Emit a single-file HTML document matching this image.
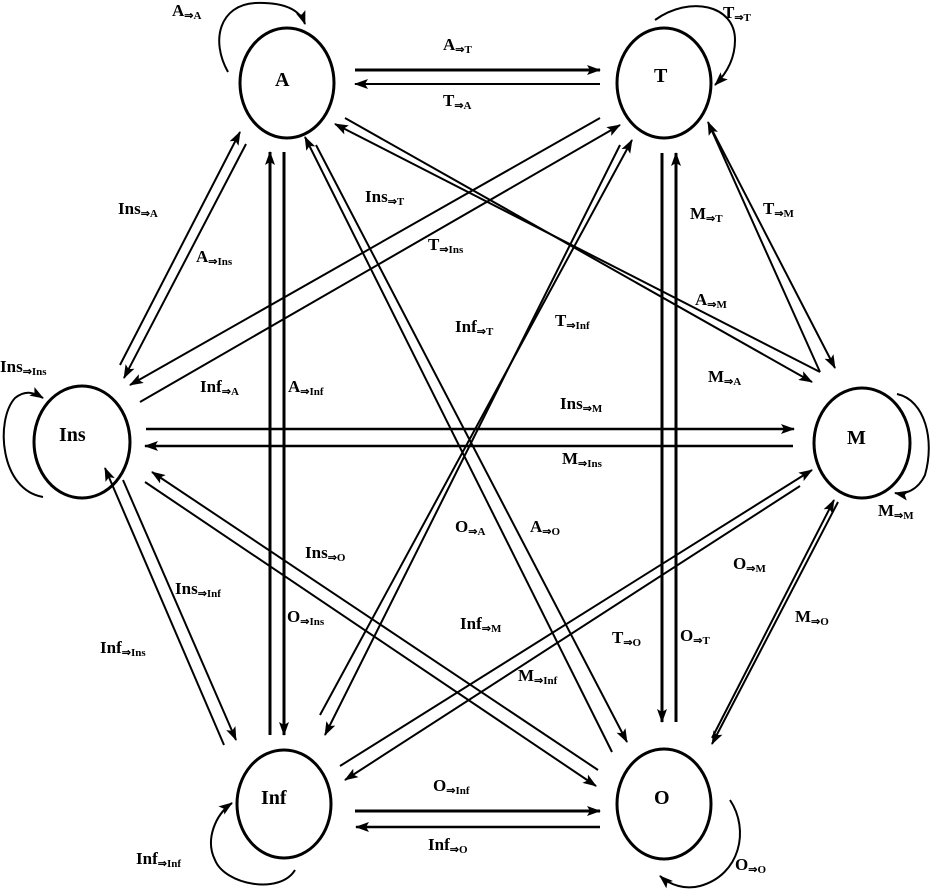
<!DOCTYPE html>
<html><head><meta charset="utf-8"><style>
html,body{margin:0;padding:0;background:#fff;}
svg{display:block;}
text{font-family:"Liberation Serif",serif;font-weight:bold;font-size:17px;fill:#000;}
text.n{font-size:20px;}
tspan.s{font-size:11px;}
</style></head><body>
<svg width="938" height="891" viewBox="0 0 938 891" xmlns="http://www.w3.org/2000/svg">
<defs>
<marker id="ar" markerWidth="14" markerHeight="10" refX="13" refY="5" orient="auto" markerUnits="userSpaceOnUse">
<path d="M0,0 L14,5 L0,10 L3,5 Z" fill="#000"/></marker>
</defs>
<g fill="none" stroke="#000" stroke-width="3">
<ellipse cx="287" cy="83" rx="47" ry="55"/>
<ellipse cx="664" cy="83" rx="47" ry="55"/>
<ellipse cx="82" cy="442" rx="48" ry="56"/>
<ellipse cx="862" cy="443" rx="48" ry="55"/>
<ellipse cx="284" cy="804" rx="47" ry="54"/>
<ellipse cx="664" cy="804" rx="47" ry="55"/>
</g>
<g fill="none" stroke="#000" stroke-width="2" marker-end="url(#ar)">
<line x1="355" y1="70" x2="600" y2="70" stroke-width="3"/>
<line x1="600" y1="84" x2="355" y2="84"/>
<line x1="120" y1="365" x2="240" y2="132"/>
<line x1="246" y1="144" x2="124" y2="378"/>
<line x1="270" y1="735" x2="270" y2="152" stroke-width="3"/>
<line x1="284" y1="152" x2="284" y2="735" stroke-width="3"/>
<line x1="316" y1="145" x2="627" y2="742"/>
<line x1="612" y1="752" x2="305" y2="137"/>
<line x1="820" y1="372" x2="335" y2="124"/>
<line x1="345" y1="118" x2="812" y2="382"/>
<line x1="600" y1="118" x2="130" y2="385"/>
<line x1="140" y1="402" x2="620" y2="125"/>
<line x1="710" y1="126" x2="835" y2="368"/>
<line x1="820" y1="372" x2="708" y2="122"/>
<line x1="620" y1="145" x2="325" y2="735"/>
<line x1="320" y1="715" x2="632" y2="140"/>
<line x1="662" y1="153" x2="662" y2="722" stroke-width="3"/>
<line x1="676" y1="722" x2="676" y2="153" stroke-width="3"/>
<line x1="146" y1="429" x2="794" y2="429" stroke-width="2.5"/>
<line x1="793" y1="446" x2="145" y2="446" stroke-width="2.5"/>
<line x1="123" y1="480" x2="236" y2="740"/>
<line x1="224" y1="745" x2="105" y2="468"/>
<line x1="145" y1="482" x2="596" y2="786"/>
<line x1="598" y1="770" x2="152" y2="472"/>
<line x1="340" y1="766" x2="812" y2="470"/>
<line x1="800" y1="486" x2="345" y2="780"/>
<line x1="838" y1="502" x2="712" y2="744"/>
<line x1="712" y1="738" x2="834" y2="500"/>
<line x1="355" y1="811" x2="600" y2="811" stroke-width="3"/>
<line x1="600" y1="827" x2="356" y2="827" stroke-width="2.5"/>
<path d="M228,72 C210,40 220,5 255,3 C285,2 300,10 305,24"/>
<path d="M655,20 C690,-5 735,5 735,40 C735,60 725,75 715,85"/>
<path d="M43,497 C0,490 -5,420 15,398 C25,390 33,392 43,398"/>
<path d="M897,394 C925,400 935,440 925,475 C918,490 905,495 895,493"/>
<path d="M295,870 C280,895 225,885 215,860 C205,840 215,815 232,803"/>
<path d="M730,800 C750,830 740,875 700,886 C685,890 670,885 660,876"/>
</g>
<g>
<text class="n" x="275" y="86">A</text>
<text class="n" x="654" y="82">T</text>
<text class="n" x="59" y="441">Ins</text>
<text class="n" x="847" y="444">M</text>
<text class="n" x="261" y="804">Inf</text>
<text class="n" x="654" y="804">O</text>
<text x="172" y="16">A<tspan class="s" dy="3">⇒A</tspan></text>
<text x="443" y="50">A<tspan class="s" dy="3">⇒T</tspan></text>
<text x="443" y="106">T<tspan class="s" dy="3">⇒A</tspan></text>
<text x="723" y="18">T<tspan class="s" dy="3">⇒T</tspan></text>
<text x="118" y="214">Ins<tspan class="s" dy="3">⇒A</tspan></text>
<text x="196" y="262">A<tspan class="s" dy="3">⇒Ins</tspan></text>
<text x="365" y="202">Ins<tspan class="s" dy="3">⇒T</tspan></text>
<text x="428" y="250">T<tspan class="s" dy="3">⇒Ins</tspan></text>
<text x="763" y="214">T<tspan class="s" dy="3">⇒M</tspan></text>
<text x="690" y="219">M<tspan class="s" dy="3">⇒T</tspan></text>
<text x="695" y="305">A<tspan class="s" dy="3">⇒M</tspan></text>
<text x="708" y="382">M<tspan class="s" dy="3">⇒A</tspan></text>
<text x="455" y="332">Inf<tspan class="s" dy="3">⇒T</tspan></text>
<text x="555" y="326">T<tspan class="s" dy="3">⇒Inf</tspan></text>
<text x="200" y="392">Inf<tspan class="s" dy="3">⇒A</tspan></text>
<text x="288" y="392">A<tspan class="s" dy="3">⇒Inf</tspan></text>
<text x="0" y="372">Ins<tspan class="s" dy="3">⇒Ins</tspan></text>
<text x="560" y="409">Ins<tspan class="s" dy="3">⇒M</tspan></text>
<text x="562" y="464">M<tspan class="s" dy="3">⇒Ins</tspan></text>
<text x="878" y="516">M<tspan class="s" dy="3">⇒M</tspan></text>
<text x="455" y="532">O<tspan class="s" dy="3">⇒A</tspan></text>
<text x="530" y="532">A<tspan class="s" dy="3">⇒O</tspan></text>
<text x="305" y="558">Ins<tspan class="s" dy="3">⇒O</tspan></text>
<text x="733" y="569">O<tspan class="s" dy="3">⇒M</tspan></text>
<text x="175" y="594">Ins<tspan class="s" dy="3">⇒Inf</tspan></text>
<text x="287" y="622">O<tspan class="s" dy="3">⇒Ins</tspan></text>
<text x="460" y="629">Inf<tspan class="s" dy="3">⇒M</tspan></text>
<text x="795" y="622">M<tspan class="s" dy="3">⇒O</tspan></text>
<text x="612" y="643">T<tspan class="s" dy="3">⇒O</tspan></text>
<text x="680" y="641">O<tspan class="s" dy="3">⇒T</tspan></text>
<text x="100" y="653">Inf<tspan class="s" dy="3">⇒Ins</tspan></text>
<text x="518" y="681">M<tspan class="s" dy="3">⇒Inf</tspan></text>
<text x="433" y="791">O<tspan class="s" dy="3">⇒Inf</tspan></text>
<text x="428" y="850">Inf<tspan class="s" dy="3">⇒O</tspan></text>
<text x="136" y="864">Inf<tspan class="s" dy="3">⇒Inf</tspan></text>
<text x="735" y="870">O<tspan class="s" dy="3">⇒O</tspan></text>
</g>
</svg>
</body></html>
